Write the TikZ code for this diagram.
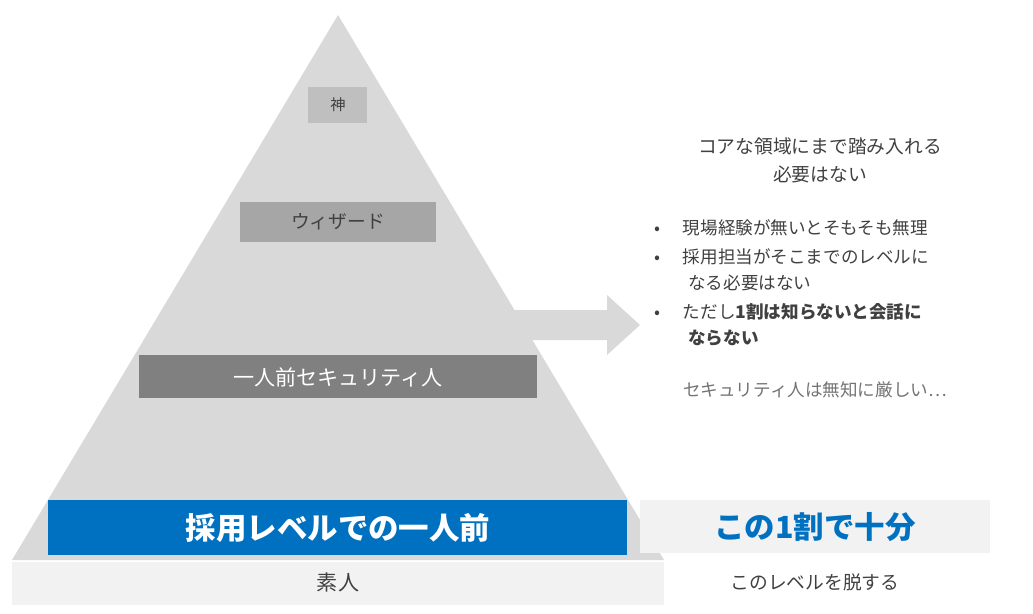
\documentclass[tikz,border=0pt]{standalone}
\usepackage{fontspec}
\setmainfont{Noto Sans CJK JP}
\usetikzlibrary{positioning}
\definecolor{pyr}{HTML}{D9D9D9}
\definecolor{pale}{HTML}{F2F2F2}
\definecolor{blu}{HTML}{0070C0}
\definecolor{txt}{HTML}{404040}
\tikzset{
  level/.style={inner sep=0pt, font=\fontsize{16}{18}\selectfont},
  note/.style={font=\fontsize{15}{22}\selectfont, text=txt, align=left, anchor=west}
}
\begin{document}
\begin{tikzpicture}[x=0.03cm,y=-0.03cm]
    \useasboundingbox (0,0) rectangle (1033,613);

    % Pyramid
    \fill[pyr] (338,15) -- (664,560) -- (12,560) -- cycle;
    \fill[pyr] (512,310) -- (607,310) -- (607,295) -- (640,325) -- (607,355) -- (607,340) -- (512,340) -- cycle;

    % Levels
    \fill[pale] (12,562) rectangle (664,605);
    \node[level, text=txt, font=\fontsize{18}{20}\selectfont] (base) at (338,582) {素人};
    \fill[blu] (48,500) rectangle (627,555);
    \node[level, text=white, font=\fontsize{26}{28}\bfseries\selectfont] (hire) at (338,528) {採用レベルでの一人前};
    \fill[black!50] (139,355) rectangle (537,398);
    \node[level, text=white, font=\fontsize{18}{20}\selectfont] (pro) at (338,377) {一人前セキュリティ人};
    \fill[black!35] (240,202) rectangle (436,242);
    \node[level, text=txt] (wiz) at (338,222) {ウィザード};
    \fill[black!25] (308,87) rectangle (367,123);
    \node[level, text=txt, font=\fontsize{13}{15}\selectfont] (god) at (338,105) {神};

    % Right side
    \fill[pale] (640,500) rectangle (990,553);
    \node[level, text=blu, font=\fontsize{26}{28}\bfseries\selectfont] (enough) at (815,527) {この1割で十分};
    \node[level, text=txt] (leave) at (815,582) {このレベルを脱する};

    \node[align=center, text=txt, font=\fontsize{16}{24}\selectfont] (core) at (820,160) {コアな領域にまで踏み入れる\\必要はない};
    \node[note] (b1) at (650,228) {•\hspace{1.3em}現場経験が無いとそもそも無理};
    \node[note] (b2) at (650,270) {•\hspace{1.3em}採用担当がそこまでのレベルに\\\hspace{1.95em}なる必要はない};
    \node[note] (b3) at (650,325) {•\hspace{1.3em}ただし\textbf{1割は知らないと会話に}\\\hspace{1.95em}\textbf{ならない}};
    \node[note, text=black!55, anchor=center] (ignorance) at (815,390) {セキュリティ人は無知に厳しい…};
\end{tikzpicture}
\end{document}
